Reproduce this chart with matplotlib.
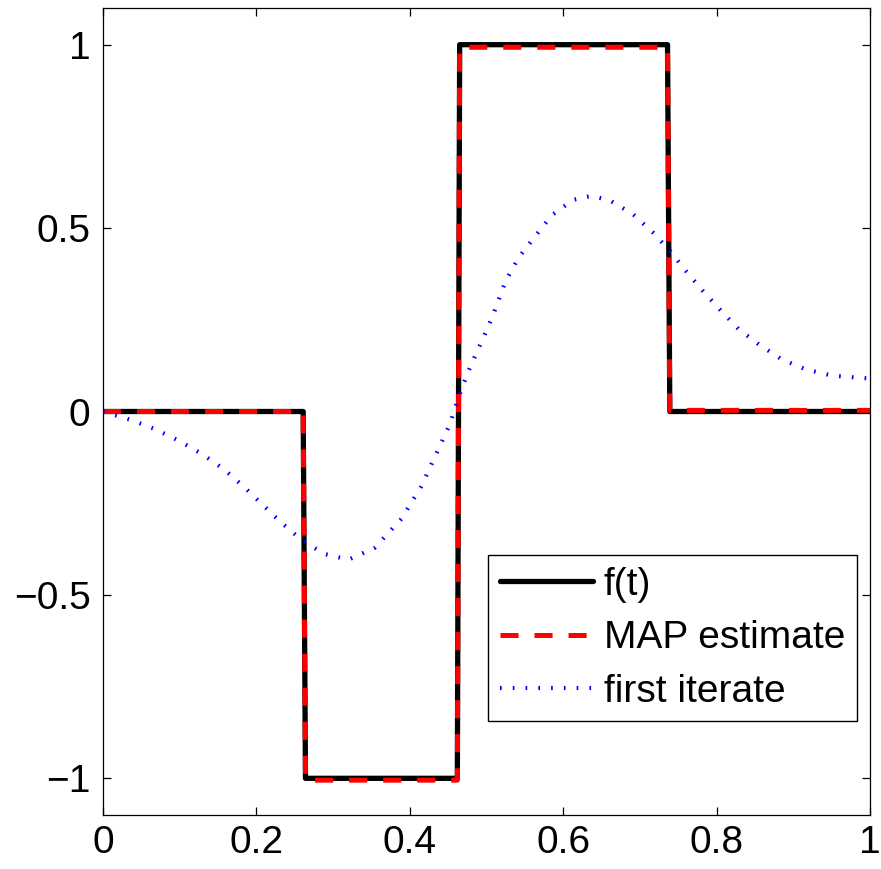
import matplotlib
matplotlib.use("Agg")
import matplotlib.pyplot as plt
import numpy as np

plt.rcParams['font.family'] = ['Liberation Sans', 'DejaVu Sans']
plt.rcParams['lines.scale_dashes'] = False

# True signal f(t): piecewise constant with three jumps
t_true = [0.0, 0.261, 0.264, 0.462, 0.465, 0.736, 0.739, 1.0]
f_true = [0.0, 0.0, -1.0, -1.0, 1.0, 1.0, 0.0, 0.0]

# MAP estimate (nearly identical to f)
t_map = [0.0, 0.261, 0.264, 0.462, 0.465, 0.736, 0.739, 1.0]
f_map = [0.0, 0.0, -1.005, -1.005, 0.993, 0.993, 0.003, 0.003]

# First iterate of the reconstruction
t_iter = [0.0, 0.038, 0.069, 0.100, 0.130, 0.158, 0.183, 0.208, 0.233, 0.259,
          0.288, 0.320, 0.354, 0.389, 0.415, 0.437, 0.452, 0.467, 0.480, 0.495,
          0.508, 0.525, 0.542, 0.564, 0.585, 0.613, 0.637, 0.661, 0.691, 0.717,
          0.739, 0.760, 0.782, 0.806, 0.829, 0.855, 0.885, 0.916, 0.950, 0.985, 1.0]
f_iter = [0.0, -0.024, -0.049, -0.081, -0.117, -0.158, -0.204, -0.254, -0.304, -0.350,
          -0.388, -0.404, -0.372, -0.293, -0.204, -0.104, -0.036, 0.060, 0.128, 0.197,
          0.260, 0.356, 0.420, 0.479, 0.535, 0.577, 0.588, 0.575, 0.538, 0.488,
          0.438, 0.383, 0.329, 0.274, 0.224, 0.183, 0.142, 0.115, 0.098, 0.092, 0.090]

x_ticks = [0, 0.2, 0.4, 0.6, 0.8, 1]
x_labels = ['0', '0.2', '0.4', '0.6', '0.8', '1']
y_ticks = [-1, -0.5, 0, 0.5, 1]
y_labels = ['\u22121', '\u22120.5', '0', '0.5', '1']

fig = plt.figure(figsize=(8.81, 8.69), dpi=100)
ax = fig.add_axes([103/881, 54/869, 767/881, 807/869])

ax.plot(t_true, f_true, color='black', lw=3.8, solid_joinstyle='round',
        solid_capstyle='round', label='f(t)')
ax.plot(t_map, f_map, color='red', lw=3.6, dashes=(13, 11.5),
        dash_capstyle='butt', label='MAP estimate')
ax.plot(t_iter, f_iter, color='blue', lw=3.0, dashes=(1.2, 8.0),
        dash_capstyle='butt', label='first iterate')

ax.set_xlim(0, 1)
ax.set_ylim(-1.1, 1.1)
ax.set_xticks(x_ticks)
ax.set_xticklabels(x_labels)
ax.set_yticks(y_ticks)
ax.set_yticklabels(y_labels)
ax.tick_params(direction='in', length=6, width=0.9, top=True, right=True,
               labelsize=28, pad=7)
ax.tick_params(axis='y', pad=9)
for s in ax.spines.values():
    s.set_linewidth(0.9)

leg = ax.legend(loc='upper left', bbox_to_anchor=(488/881, 1 - 555/869),
                bbox_transform=fig.transFigure, borderaxespad=0,
                fontsize=28, handlelength=2.4, handletextpad=0.28,
                labelspacing=0.45, borderpad=0.3, fancybox=False,
                framealpha=1, edgecolor='black')
leg.get_frame().set_linewidth(1.0)

fig.savefig('out.png', dpi=100)
